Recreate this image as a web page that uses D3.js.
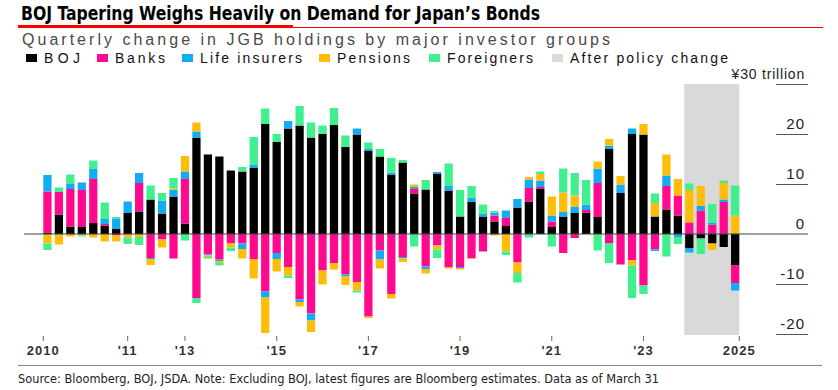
<!DOCTYPE html>
<html>
<head>
<meta charset="utf-8">
<script src="https://cdn.jsdelivr.net/npm/d3@7"></script>
<style>
  body { margin: 0; background: #fff; }
  svg text { font-family: "Liberation Sans", Arial, sans-serif; }
  .narrow { font-family: "Liberation Sans Narrow", "DejaVu Sans Condensed", "Liberation Sans", sans-serif !important; }
</style>
</head>
<body>
<div id="chart"></div>
<script>
// quarters, 2010 Q1 .. 2025 Q1
const quarters = [
  "2010Q1","2010Q2","2010Q3","2010Q4","2011Q1","2011Q2","2011Q3","2011Q4",
  "2012Q1","2012Q2","2012Q3","2012Q4","2013Q1","2013Q2","2013Q3","2013Q4",
  "2014Q1","2014Q2","2014Q3","2014Q4","2015Q1","2015Q2","2015Q3","2015Q4",
  "2016Q1","2016Q2","2016Q3","2016Q4","2017Q1","2017Q2","2017Q3","2017Q4",
  "2018Q1","2018Q2","2018Q3","2018Q4","2019Q1","2019Q2","2019Q3","2019Q4",
  "2020Q1","2020Q2","2020Q3","2020Q4","2021Q1","2021Q2","2021Q3","2021Q4",
  "2022Q1","2022Q2","2022Q3","2022Q4","2023Q1","2023Q2","2023Q3","2023Q4",
  "2024Q1","2024Q2","2024Q3","2024Q4","2025Q1"
];

// trillion yen per quarter
const boj = [0.3,3.9,1.5,1.4,2.2,1.7,1.0,4.2,4.5,6.9,4.1,7.5,2.1,19.2,15.9,15.5,
  12.7,12.5,13.2,22.0,18.4,21.1,21.7,19.3,20.0,21.8,17.4,19.9,16.7,15.5,11.9,14.3,
  8.1,8.9,12.1,8.7,3.5,6.4,3.5,2.5,1.6,5.3,6.5,9.0,1.4,3.5,4.2,4.3,
  3.4,17.0,8.2,20.0,19.9,3.5,4.9,3.7,-2.8,-0.9,-1.9,-2.6,-6.3];
const banks = [8.2,4.5,7.5,7.4,8.8,0.3,-0.3,0,5.7,-4.8,-1.1,-4.9,8.9,-12.8,-4.1,-5.1,
  -1.9,-1.9,-5.0,-11.5,-3.8,-6.6,-13.1,-15.9,-7.3,-5.8,-8.1,-9.6,-16.5,-3.3,-12.0,-4.6,
  0.9,-6.5,-2.3,-6.6,-6.6,-4.8,-3.5,1.2,1.6,-5.7,2.7,0.4,1.1,-3.8,-0.8,0.5,
  6.8,-1.8,-6.1,-5.3,-10.3,-3.1,4.7,4.0,2.3,4.7,1.9,6.4,-3.5];
const life = [3.3,-0.1,1.0,1.5,2.0,1.0,2.0,2.3,2.0,-0.2,2.6,1.3,1.5,1.3,-0.2,-0.3,
  0,-1.1,0.6,-1.2,-1.2,1.5,-0.5,-1.4,0,0,-0.4,1.2,0.3,-1.8,0.4,-0.3,
  0.4,-0.5,0.3,0.9,-0.2,0.9,0.5,0.6,1.5,1.7,1.7,1.3,1.2,0.9,1.3,1.1,
  2.9,0.7,1.7,1.1,0,-0.3,2.1,-0.6,-0.9,0.9,0.4,0.5,-1.5];
const pensions = [-1.9,-2.0,-0.5,-0.3,-0.7,-1.5,-1.2,-0.7,-0.6,-1.2,-1.6,0.3,3.1,1.8,-0.3,-0.4,
  -0.8,-1.9,-3.9,-7.1,-2.5,-1.7,-0.9,-2.3,-2.8,-1.3,-1.7,-1.7,-0.3,-1.8,-0.9,-0.7,
  0.5,-0.9,-0.8,-0.3,-0.3,-0.2,0,-0.3,-3.5,-2.1,0.5,1.3,3.8,3.9,2.2,0,
  1.4,1.3,1.7,-1.0,2.1,2.7,4.2,3.3,6.5,4.0,-1.3,3.3,3.7];
const foreigners = [-1.3,0.9,1.9,-0.2,1.7,3.3,0.4,-1.3,-1.6,2.8,1.5,2.1,-1.3,-1.0,-0.3,-0.5,
  -0.7,0.9,5.6,3.1,1.6,-0.5,3.9,3.0,1.7,3.4,2.3,-0.4,1.3,1.5,2.9,0.5,
  -2.5,1.9,-1.7,4.5,5.3,2.3,1.9,0.3,-0.7,-1.9,-0.7,0.5,-2.5,4.8,4.5,4.9,
  -3.3,-4.0,0,-6.5,-1.7,1.9,-4.5,-1.4,1.3,-3.1,3.7,0.5,6.0];

const seriesNames = ["BOJ", "Banks", "Life insurers", "Pensions", "Foreigners"];
const seriesColors = ["#000000", "#ff0a8e", "#13abf3", "#ffbd0a", "#40ef8e"];
const yTicks = [-20, -10, 0, 10, 20];
const xTickQuarters = ["2010Q1","2011Q4","2013Q1","2015Q1","2017Q1","2019Q1","2021Q1","2023Q1","2025Q1"];
const xTickLabels = ["2010","'11","'13","'15","'17","'19","'21","'23","2025"];
const shadeQuarters = ["2024Q1", "2025Q1"];

const W = 838, H = 390;
const svg = d3.select("#chart").append("svg")
    .attr("width", W)
    .attr("height", H);

// title + rule
svg.append("text")
    .attr("class", "narrow")
    .attr("x", 21).attr("y", 20)
    .attr("font-size", 19).attr("font-weight", "bold")
    .attr("fill", "#000")
    .attr("textLength", 519).attr("lengthAdjust", "spacingAndGlyphs")
    .text("BOJ Tapering Weighs Heavily on Demand for Japan\u2019s Bonds");
svg.append("line")
    .attr("x1", 18).attr("x2", 823).attr("y1", 27.5).attr("y2", 27.5)
    .attr("stroke", "#f00").attr("stroke-width", 1);
svg.append("rect")
    .attr("x", 18).attr("y", 25).attr("width", 275).attr("height", 3)
    .attr("fill", "#f00");

svg.append("text")
    .attr("x", 22).attr("y", 45)
    .attr("font-size", 16).attr("fill", "#4a4a4a")
    .attr("textLength", 588).attr("lengthAdjust", "spacing")
    .text("Quarterly change in JGB holdings by major investor groups");

// legend
const legendItems = seriesNames.map((n, i) => ({ name: n, color: seriesColors[i] }))
    .concat([{ name: "After policy change", color: "#d9d9d9" }]);
const legendX = [44, 115, 200, 337, 447, 570];
const legendW = [36, 50, 102, 73, 86, 158];
const lg = svg.append("g");
legendItems.forEach((d, i) => {
  lg.append("rect")
      .attr("x", legendX[i] - 18).attr("y", 54)
      .attr("width", 11).attr("height", 8)
      .attr("fill", d.color);
  lg.append("text")
      .attr("x", legendX[i]).attr("y", 62.5)
      .attr("font-size", 14).attr("fill", "#111")
      .attr("textLength", legendW[i]).attr("lengthAdjust", "spacing")
      .text(d.name);
});

// scales
const x = d3.scaleBand()
    .domain(quarters)
    .range([43.3, 739.3])
    .paddingInner(0.28)
    .paddingOuter(0);
const y = d3.scaleLinear()
    .domain([-20, 30])
    .range([334, 84]);

// shaded period
svg.append("rect")
    .attr("x", x(shadeQuarters[0]) - 1)
    .attr("y", y(30))
    .attr("width", x(shadeQuarters[1]) + x.bandwidth() - x(shadeQuarters[0]) + 1)
    .attr("height", y(-20) - y(30) + 1)
    .attr("fill", "#d9d9d9");

// right axis: short rules with labels above
const yAxis = svg.append("g");
yAxis.selectAll("line")
    .data(yTicks.filter(t => t !== 0).concat([30]))
    .join("line")
    .attr("x1", 776).attr("x2", 808)
    .attr("y1", d => y(d) + 0.5).attr("y2", d => y(d) + 0.5)
    .attr("stroke", "#555").attr("stroke-width", 1);
yAxis.selectAll("text")
    .data(yTicks)
    .join("text")
    .attr("x", 805).attr("y", d => y(d) - 5)
    .attr("text-anchor", "end")
    .attr("font-size", 15).attr("fill", "#222")
    .attr("letter-spacing", 1)
    .text(d => d);
yAxis.append("text")
    .attr("x", 805).attr("y", y(30) - 5)
    .attr("text-anchor", "end")
    .attr("font-size", 14).attr("fill", "#222")
    .attr("letter-spacing", 0.8)
    .text("\u00a530 trillion");

// stacked bars
const rows = quarters.map((q, i) => ({
  q: q,
  "BOJ": boj[i], "Banks": banks[i], "Life insurers": life[i],
  "Pensions": pensions[i], "Foreigners": foreigners[i]
}));
const stacked = d3.stack()
    .keys(seriesNames)
    .offset(d3.stackOffsetDiverging)(rows);

svg.append("g")
  .selectAll("g")
  .data(stacked)
  .join("g")
    .attr("fill", (d, i) => seriesColors[i])
  .selectAll("rect")
  .data(d => d)
  .join("rect")
    .attr("x", d => x(d.data.q))
    .attr("width", x.bandwidth())
    .attr("y", d => y(Math.max(d[0], d[1])))
    .attr("height", d => Math.abs(y(d[0]) - y(d[1])));

// zero line
svg.append("line")
    .attr("x1", 24).attr("x2", 808)
    .attr("y1", y(0)).attr("y2", y(0))
    .attr("stroke", "#444").attr("stroke-width", 1);

// bottom ticks (first and last sit on the outer bar edges)
const tickX = (q, i) => {
  if (i === 0) return x(q);
  if (i === xTickQuarters.length - 1) return x(q) + x.bandwidth();
  return x(q) + x.bandwidth() / 2;
};
const xAxis = svg.append("g");
xAxis.selectAll("line")
    .data(xTickQuarters)
    .join("line")
    .attr("x1", (d, i) => tickX(d, i)).attr("x2", (d, i) => tickX(d, i))
    .attr("y1", 336).attr("y2", 341)
    .attr("stroke", "#666");
xAxis.selectAll("text")
    .data(xTickQuarters)
    .join("text")
    .attr("x", (d, i) => tickX(d, i))
    .attr("y", 355)
    .attr("text-anchor", "middle")
    .attr("font-size", 13).attr("font-weight", "bold").attr("fill", "#333")
    .attr("letter-spacing", 1)
    .text((d, i) => xTickLabels[i]);

// footer
svg.append("line")
    .attr("x1", 18).attr("x2", 822).attr("y1", 365.5).attr("y2", 365.5)
    .attr("stroke", "#888");
svg.append("text")
    .attr("class", "narrow")
    .attr("x", 18).attr("y", 383)
    .attr("font-size", 13).attr("fill", "#222")
    .attr("textLength", 641).attr("lengthAdjust", "spacingAndGlyphs")
    .text("Source: Bloomberg, BOJ, JSDA. Note: Excluding BOJ, latest figures are Bloomberg estimates. Data as of March 31");
</script>
</body>
</html>
